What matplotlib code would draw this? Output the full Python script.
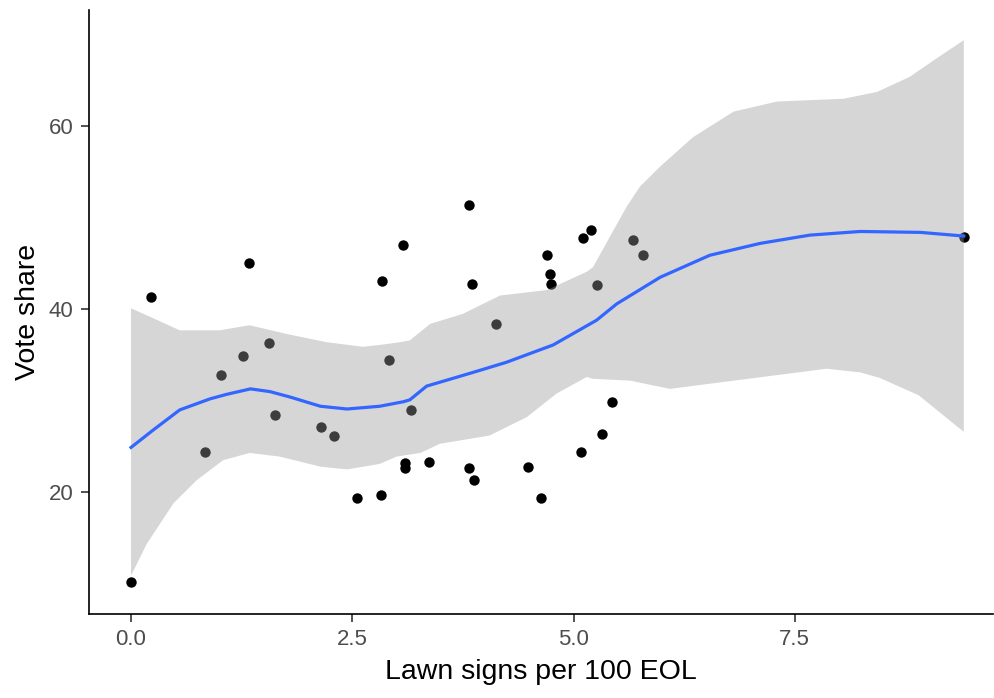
import matplotlib
matplotlib.use("Agg")
import matplotlib.pyplot as plt

# Data points (lawn signs per 100 EOL, vote share)
signs = [0.00, 0.22, 1.33, 3.07, 2.84, 1.56, 1.26, 1.02, 2.92, 1.63, 2.15, 2.29,
         0.84, 3.16, 3.10, 3.10, 2.55, 2.82, 3.82, 3.85, 5.20, 5.11, 4.70, 4.73,
         4.75, 5.67, 5.79, 5.27, 4.12, 5.43, 5.32, 5.09, 3.37, 3.82, 3.87, 4.49,
         4.63, 9.41]
vote = [10.2, 41.3, 45.0, 47.0, 43.1, 36.3, 34.9, 32.8, 34.5, 28.4, 27.1, 26.2,
        24.4, 29.0, 23.2, 22.7, 19.4, 19.7, 51.4, 42.8, 48.7, 47.8, 45.9, 43.9,
        42.8, 47.6, 45.9, 42.6, 38.4, 29.9, 26.4, 24.4, 23.3, 22.7, 21.3, 22.8,
        19.4, 47.9]

# Smoothed fit
fit_x = [0.00, 0.25, 0.55, 0.89, 1.08, 1.35, 1.57, 1.80, 2.14, 2.44, 2.81, 3.08,
         3.15, 3.34, 3.83, 4.24, 4.77, 5.26, 5.49, 5.98, 6.54, 7.11, 7.67, 8.24,
         8.92, 9.41]
fit_y = [24.9, 26.8, 29.0, 30.2, 30.7, 31.3, 31.0, 30.4, 29.4, 29.1, 29.4, 29.9,
         30.1, 31.6, 33.0, 34.2, 36.1, 38.8, 40.6, 43.5, 45.9, 47.2, 48.1, 48.5,
         48.4, 48.0]

# Confidence band upper edge
upper_x = [0.00, 0.21, 0.55, 1.00, 1.34, 1.76, 2.21, 2.62, 2.81, 3.04, 3.15, 3.38,
           3.75, 4.17, 4.70, 5.15, 5.22, 5.45, 5.60, 5.75, 5.98, 6.35, 6.81, 7.30,
           8.05, 8.43, 8.80, 9.10, 9.41]
upper_y = [40.1, 39.2, 37.7, 37.7, 38.25, 37.3, 36.4, 35.9, 36.1, 36.4, 36.6, 38.4,
           39.5, 41.5, 42.1, 44.1, 44.6, 48.6, 51.2, 53.4, 55.6, 58.8, 61.6, 62.7,
           63.0, 63.75, 65.4, 67.4, 69.4]

# Confidence band lower edge
lower_x = [0.00, 0.18, 0.48, 0.74, 1.04, 1.34, 1.68, 2.14, 2.44, 2.81, 3.00, 3.27,
           3.49, 4.05, 4.47, 4.81, 5.15, 5.22, 5.64, 6.09, 6.73, 7.86, 8.24, 8.46,
           8.90, 9.41]
lower_y = [10.9, 14.4, 18.8, 21.3, 23.5, 24.3, 23.9, 22.8, 22.5, 23.1, 23.9, 24.3,
           25.3, 26.2, 28.2, 30.8, 32.6, 32.4, 32.2, 31.3, 32.1, 33.5, 33.1, 32.5,
           30.6, 26.6]

x_ticks = [0.0, 2.5, 5.0, 7.5]
x_tick_labels = ["0.0", "2.5", "5.0", "7.5"]
y_ticks = [20, 40, 60]
y_tick_labels = ["20", "40", "60"]

plt.rcParams['font.family'] = ['Liberation Sans', 'DejaVu Sans']

fig = plt.figure(figsize=(9.95, 6.98), dpi=100)
ax = fig.add_axes([89 / 995, 84 / 698, (993 - 89) / 995, (614 - 10) / 698])

ax.scatter(signs, vote, s=56, color="black", linewidths=0, zorder=2)

poly_x = list(upper_x) + list(reversed(lower_x))
poly_y = list(upper_y) + list(reversed(lower_y))
ax.fill(poly_x, poly_y, color="#999999", alpha=0.4, linewidth=0, zorder=3)
ax.plot(fit_x, fit_y, color="#3366FF", linewidth=2.3, zorder=4)

ax.set_xlim(-0.475, 9.74)
ax.set_ylim(6.7, 72.7)
ax.set_xticks(x_ticks)
ax.set_xticklabels(x_tick_labels)
ax.set_yticks(y_ticks)
ax.set_yticklabels(y_tick_labels)

for side in ["top", "right"]:
    ax.spines[side].set_visible(False)
for side in ["left", "bottom"]:
    ax.spines[side].set_linewidth(1.2)
    ax.spines[side].set_color("black")

ax.tick_params(axis="both", length=6, width=1.2, color="#333333",
               labelsize=16, labelcolor="#4D4D4D", pad=5)
ax.set_xlabel("Lawn signs per 100 EOL", fontsize=20.5, color="black", labelpad=6)
ax.set_ylabel("Vote share", fontsize=20.5, color="black", labelpad=6)

fig.savefig("out.png", dpi=100)
